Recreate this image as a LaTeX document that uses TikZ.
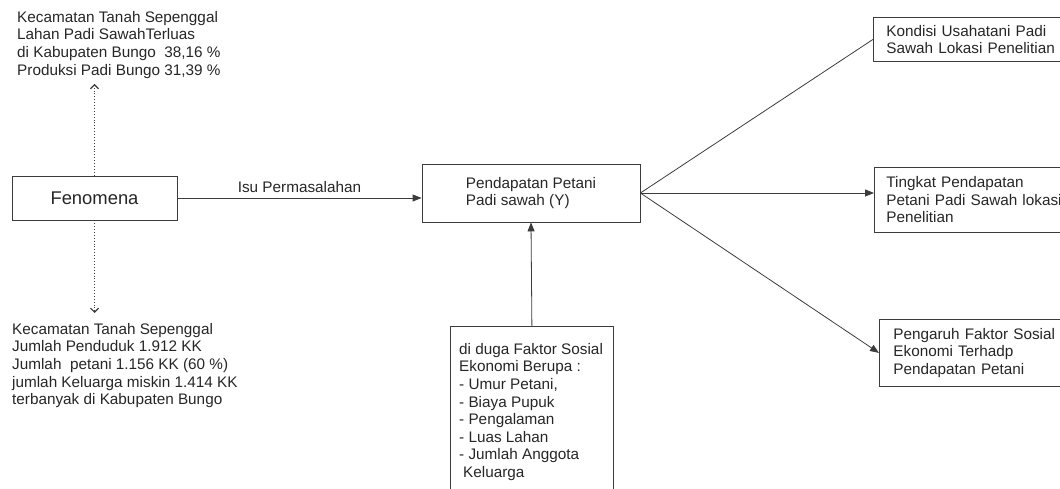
\documentclass[tikz,border=0pt]{standalone}
\usepackage{fontspec}
\setmainfont{Liberation Sans}
\usetikzlibrary{arrows.meta}
\definecolor{txt}{HTML}{262626}
\definecolor{ln}{HTML}{3C3C3C}
\begin{document}
\begin{tikzpicture}[x=1pt,y=-1pt,
  every node/.style={text=txt},
  lbl/.style={font=\fontsize{15.3}{17.6}\selectfont, align=left, inner sep=0pt},
  box/.style={draw=ln, line width=0.8pt},
  conn/.style={draw=ln, line width=0.8pt},
  arr/.style={conn, -{Triangle[length=9pt,width=7pt]}},
  dots/.style={draw=ln, dotted, line width=0.9pt, -{Straight Barb[length=4pt,width=8pt,line width=1.1pt]}}]
\useasboundingbox (0,0) rectangle (1060,489);

% nodes
\node[box, minimum width=165pt, minimum height=44pt, inner sep=0pt,
      font=\fontsize{18.4}{22}\selectfont] (fen) at (94.5,198) {Fenomena};
\node[box, lbl, minimum width=218pt, minimum height=58pt] (pend) at (531,193)
  {Pendapatan Petani\\Padi sawah (Y)};
\node[box, lbl, anchor=north west, minimum height=44pt, text width=190pt,
      inner xsep=13pt] (kon) at (873,17)
  {Kondisi Usahatani Padi\\Sawah Lokasi Penelitian};
\node[box, lbl, anchor=north west, minimum height=65pt, text width=190pt,
      inner xsep=12pt] (ting) at (874,167)
  {Tingkat Pendapatan\\Petani Padi Sawah lokasi\\Penelitian};
\node[box, lbl, anchor=north west, minimum height=67pt, text width=190pt,
      inner xsep=14pt] (peng) at (879,319)
  {Pengaruh Faktor Sosial\\Ekonomi Terhadp\\Pendapatan Petani};
\node[box, anchor=north west, minimum width=163pt, minimum height=200pt,
      inner sep=0pt] (fak) at (450,326) {};
\node[lbl, anchor=north west] (faktxt) at (459,343)
  {di duga Faktor Sosial\\Ekonomi Berupa :\\- Umur Petani,\\- Biaya Pupuk\\- Pengalaman\\- Luas Lahan\\- Jumlah Anggota\\\hspace*{4pt}Keluarga};
\node[lbl, anchor=north west] (toptxt) at (17,11)
  {Kecamatan Tanah Sepenggal\\Lahan Padi SawahTerluas\\di Kabupaten Bungo\ \ 38,16 \%\\Produksi Padi Bungo 31,39 \%};
\node[lbl, anchor=north west] (bottxt) at (12,323)
  {Kecamatan Tanah Sepenggal\\Jumlah Penduduk 1.912 KK\\Jumlah\ \ petani 1.156 KK (60 \%)\\jumlah Keluarga miskin 1.414 KK\\terbanyak di Kabupaten Bungo};
\coordinate (tup) at (94.5,84);
\coordinate (tdn) at (94.5,313);

% connectors
\draw[arr] (fen.east) -- node[lbl, above=5pt] (isu) {Isu Permasalahan} (fen.east -| pend.west);
\draw[conn] (pend.east) -- (kon.west);
\draw[arr] (pend.east) -- (pend.east -| ting.west);
\draw[arr] (pend.east) -- (peng.west);
\draw[arr] (fak.north) -- (pend.south);
\draw[dots] (fen.north) -- (tup);
\draw[dots] (fen.south) -- (tdn);
\end{tikzpicture}
\end{document}
